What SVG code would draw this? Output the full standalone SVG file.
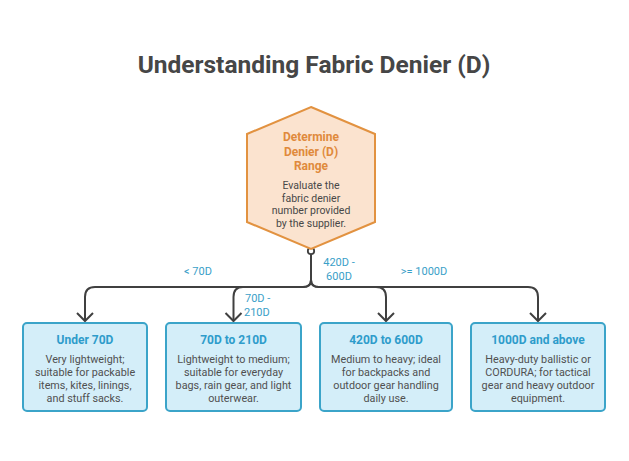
<svg xmlns="http://www.w3.org/2000/svg" width="629" height="461" viewBox="0 0 629 461">
<defs>
<style>
.title{font-family:Roboto,"Liberation Sans",sans-serif;font-weight:bold;font-size:24.5px;fill:#464646;text-anchor:middle}
.hx{fill:#fbe3cf;stroke:#e29240;stroke-width:2}
.hxt{font-family:Roboto,"Liberation Sans",sans-serif;font-weight:bold;font-size:12px;fill:#e08a3c;text-anchor:middle}
.hxb{font-family:Roboto,"Liberation Sans",sans-serif;font-size:10.5px;fill:#484848;text-anchor:middle}
.bx{fill:#d4eef9;stroke:#3ba4c9;stroke-width:2}
.bxt{font-family:Roboto,"Liberation Sans",sans-serif;font-weight:bold;font-size:12px;fill:#2e9ccb;text-anchor:middle}
.bxb{font-family:Roboto,"Liberation Sans",sans-serif;font-size:10.8px;fill:#505050;text-anchor:middle}
.ln{fill:none;stroke:#404040;stroke-width:2}
.lbl{font-family:Roboto,"Liberation Sans",sans-serif;font-size:11px;fill:#3aa0c8}
</style>
<marker id="ah" viewBox="0 0 20 20" refX="10" refY="10" markerWidth="20" markerHeight="20" markerUnits="userSpaceOnUse" orient="auto">
<path d="M2,2 L10,10 L2,18" fill="none" stroke="#404040" stroke-width="2"/>
</marker>
</defs>
<rect width="629" height="461" fill="#ffffff"/>
<text class="title" x="314" y="73">Understanding Fabric Denier (D)</text>

<g id="connectors">
<path class="ln" d="M311,254 V280 Q311,287 303,287 H95 Q85,287 85,297 V321" marker-end="url(#ah)"/>
<path class="ln" d="M311,280 Q311,287 303,287 H243 Q233.5,287 233.5,297 V321" marker-end="url(#ah)"/>
<path class="ln" d="M311,280 Q311,287 319,287 H376 Q386,287 386,297 V321" marker-end="url(#ah)"/>
<path class="ln" d="M311,280 Q311,287 319,287 H528 Q538,287 538,297 V321" marker-end="url(#ah)"/>
<circle cx="311" cy="251" r="3.2" fill="#ffffff" stroke="#404040" stroke-width="1.8"/>
<text class="lbl" x="198" y="275" text-anchor="middle">&lt; 70D</text>
<text class="lbl" x="339" y="266" text-anchor="middle">420D -</text>
<text class="lbl" x="339" y="280" text-anchor="middle">600D</text>
<text class="lbl" x="424" y="275" text-anchor="middle">&gt;= 1000D</text>
<text class="lbl" x="245" y="302">70D -</text>
<text class="lbl" x="244" y="316">210D</text>
</g>

<g id="determine">
<polygon class="hx" points="311,107 375,134 375,222 311,249 247,222 247,134"/>
<text class="hxt" x="311" y="141">Determine</text>
<text class="hxt" x="311" y="156">Denier (D)</text>
<text class="hxt" x="311" y="170">Range</text>
<text class="hxb" x="311" y="189">Evaluate the</text>
<text class="hxb" x="311" y="201.5">fabric denier</text>
<text class="hxb" x="311" y="214">number provided</text>
<text class="hxb" x="311" y="226.5">by the supplier.</text>
</g>

<g id="under70">
<rect class="bx" x="23" y="323" width="124" height="88" rx="4"/>
<text class="bxt" x="85" y="344">Under 70D</text>
<text class="bxb" x="85" y="362.5">Very lightweight;</text>
<text class="bxb" x="85" y="375.5">suitable for packable</text>
<text class="bxb" x="85" y="388.5">items, kites, linings,</text>
<text class="bxb" x="85" y="401.5">and stuff sacks.</text>
</g>

<g id="d70to210">
<rect class="bx" x="166" y="323" width="135" height="88" rx="4"/>
<text class="bxt" x="233.5" y="344">70D to 210D</text>
<text class="bxb" x="233.5" y="362.5">Lightweight to medium;</text>
<text class="bxb" x="233.5" y="375.5">suitable for everyday</text>
<text class="bxb" x="233.5" y="388.5">bags, rain gear, and light</text>
<text class="bxb" x="233.5" y="401.5">outerwear.</text>
</g>

<g id="d420to600">
<rect class="bx" x="320" y="323" width="132" height="88" rx="4"/>
<text class="bxt" x="386" y="344">420D to 600D</text>
<text class="bxb" x="386" y="362.5">Medium to heavy; ideal</text>
<text class="bxb" x="386" y="375.5">for backpacks and</text>
<text class="bxb" x="386" y="388.5">outdoor gear handling</text>
<text class="bxb" x="386" y="401.5">daily use.</text>
</g>

<g id="d1000">
<rect class="bx" x="471" y="323" width="134" height="88" rx="4"/>
<text class="bxt" x="538" y="344">1000D and above</text>
<text class="bxb" x="538" y="362.5">Heavy-duty ballistic or</text>
<text class="bxb" x="538" y="375.5">CORDURA; for tactical</text>
<text class="bxb" x="538" y="388.5">gear and heavy outdoor</text>
<text class="bxb" x="538" y="401.5">equipment.</text>
</g>
</svg>
